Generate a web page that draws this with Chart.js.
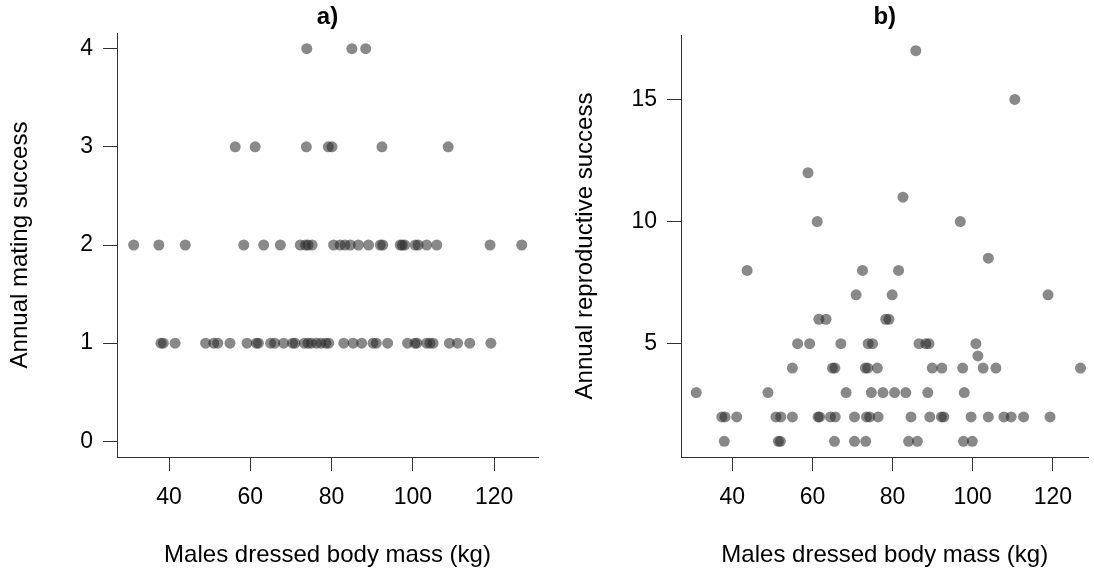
<!DOCTYPE html>
<html>
<head>
<meta charset="utf-8">
<script src="https://cdn.jsdelivr.net/npm/chart.js@4/dist/chart.umd.min.js"></script>
<style>
  html, body { margin: 0; padding: 0; background: #fff; }
  #wrap { position: relative; width: 1094px; height: 572px; overflow: hidden; }
  canvas { position: absolute; top: 0; }
</style>
</head>
<body>
<div id="wrap">
  <canvas id="cA" width="547" height="572" style="left:0px"></canvas>
  <canvas id="cB" width="547" height="572" style="left:547px"></canvas>
</div>
<script>
// ---- Data ----
// Panel a): body mass (kg) per annual mating success level
const massMating1 = [38, 38.6, 41.5, 49, 51, 52, 55, 59.2, 61.5, 62, 65, 66, 68.2, 70.4, 71, 73.3, 74.2, 75, 76.3, 77.4, 78.6, 79.3, 83, 85.3, 87.4, 90.2, 91, 93.8, 98.7, 100.5, 101, 103.4, 104.2, 105, 109, 111, 114, 119.2];
const massMating2 = [31.3, 37.5, 44, 58.4, 63.3, 67.4, 72.3, 73.6, 74.2, 75.2, 80.5, 82.1, 83.3, 84.6, 86.6, 89.1, 92, 92.6, 96.9, 97.4, 98, 100.6, 101.3, 103.4, 105.9, 119, 126.8];
const massMating3 = [56.3, 61.2, 73.8, 79.2, 80.1, 92.4, 108.7];
const massMating4 = [73.9, 85, 88.4];

// Panel b): body mass (kg) and annual reproductive success
const massRS = [85.8, 110.5, 58.9, 82.6, 61.2, 96.9, 103.9,
  43.7, 72.5, 81.5,
  70.9, 79.9, 118.8,
  61.6, 63.4, 78.3, 79.1,
  56.3, 59.3, 67.1, 73.9, 75, 86.6, 88.3, 89.1, 100.8,
  101.3,
  55, 65, 65.6, 73.2, 73.8, 76.2, 89.9, 92.3, 97.5, 102.6, 105.8, 126.9,
  31, 48.9, 68.4, 74.7, 77.6, 80.5, 83.3, 88.8, 97.9,
  37.4, 38.2, 41.1, 50.9, 52.1, 55, 61.4, 61.8, 64.5, 65.7, 70.5, 73.5, 74.3, 76.4, 84.6, 89.3, 92.2, 92.8, 99.6, 103.9, 107.8, 109.6, 112.7, 119.3,
  38, 51.5, 52, 65.5, 70.5, 73.3, 84, 86.2, 97.7, 99.9];
const reproSuccess = [17, 15, 12, 11, 10, 10, 8.5,
  8, 8, 8,
  7, 7, 7,
  6, 6, 6, 6,
  5, 5, 5, 5, 5, 5, 5, 5, 5,
  4.5,
  4, 4, 4, 4, 4, 4, 4, 4, 4, 4, 4, 4,
  3, 3, 3, 3, 3, 3, 3, 3, 3,
  2, 2, 2, 2, 2, 2, 2, 2, 2, 2, 2, 2, 2, 2, 2, 2, 2, 2, 2, 2, 2, 2, 2, 2,
  1, 1, 1, 1, 1, 1, 1, 1, 1, 1];

const xTickValues = [40, 60, 80, 100, 120];
const yTicksMating = [0, 1, 2, 3, 4];
const yTicksRS = [5, 10, 15];
const panelTitles = ['a)', 'b)'];
const xTitle = 'Males dressed body mass (kg)';
const yTitleA = 'Annual mating success';
const yTitleB = 'Annual reproductive success';

// ---- Build ----
const FONT = "'Liberation Sans', Arial, sans-serif";
const POINT_COLOR = 'rgba(40,40,40,0.55)';
const AXIS_COLOR = '#333';

const pointsA = [];
[[massMating1, 1], [massMating2, 2], [massMating3, 3], [massMating4, 4]].forEach(([arr, lvl]) => {
  arr.forEach(m => pointsA.push({ x: m, y: lvl }));
});
const pointsB = massRS.map((m, i) => ({ x: m, y: reproSuccess[i] }));

const panelTitlePlugin = {
  id: 'panelTitle',
  afterDraw(chart, args, opts) {
    const { ctx, chartArea } = chart;
    ctx.save();
    ctx.font = 'bold 24px ' + FONT;
    ctx.fillStyle = '#000';
    ctx.textAlign = 'center';
    ctx.textBaseline = 'middle';
    ctx.fillText(opts.text, (chartArea.left + chartArea.right) / 2, 17);
    ctx.restore();
  }
};

function makeChart(id, data, cfg) {
  return new Chart(document.getElementById(id), {
    type: 'scatter',
    data: { datasets: [{
      data: data,
      backgroundColor: POINT_COLOR,
      borderWidth: 0,
      pointRadius: 5.5,
      pointHoverRadius: 5.5
    }] },
    plugins: [panelTitlePlugin],
    options: {
      responsive: false,
      animation: false,
      devicePixelRatio: 1,
      events: [],
      layout: { padding: { top: cfg.top, right: cfg.right, left: 0, bottom: 0 } },
      plugins: {
        legend: { display: false },
        tooltip: { enabled: false },
        panelTitle: { text: cfg.title }
      },
      scales: {
        x: {
          type: 'linear',
          min: cfg.xmin, max: cfg.xmax,
          afterBuildTicks: s => { s.ticks = xTickValues.map(v => ({ value: v })); },
          afterFit: s => { s.height = 115; },
          ticks: { font: { family: FONT, size: 23 }, color: '#000', padding: 13, maxRotation: 0, autoSkip: false },
          grid: { drawOnChartArea: false, drawTicks: true, tickLength: 14, color: AXIS_COLOR },
          border: { display: true, color: AXIS_COLOR, width: 1 },
          title: { display: true, text: xTitle, font: { family: FONT, size: 24 }, color: '#000', padding: { top: 0, bottom: 2 } }
        },
        y: {
          type: 'linear',
          min: cfg.ymin, max: cfg.ymax,
          afterBuildTicks: s => { s.ticks = cfg.yTicks.map(v => ({ value: v })); },
          afterFit: s => { s.width = cfg.yWidth; },
          ticks: { font: { family: FONT, size: 23 }, color: '#000', padding: 10, autoSkip: false },
          grid: { drawOnChartArea: false, drawTicks: true, tickLength: 14, color: AXIS_COLOR },
          border: { display: true, color: AXIS_COLOR, width: 1 },
          title: { display: true, text: cfg.yTitle, font: { family: FONT, size: 24 }, color: '#000', padding: { top: cfg.yTitlePad, bottom: 0 } }
        }
      }
    }
  });
}

makeChart('cA', pointsA, {
  title: panelTitles[0], top: 33, right: 9,
  xmin: 27.2, xmax: 130.8, ymin: -0.16, ymax: 4.16,
  yTicks: yTicksMating, yWidth: 117, yTitle: yTitleA, yTitlePad: 6
});
makeChart('cB', pointsB, {
  title: panelTitles[1], top: 35, right: 0,
  xmin: 27.2, xmax: 128.9, ymin: 0.36, ymax: 17.64,
  yTicks: yTicksRS, yWidth: 134, yTitle: yTitleB, yTitlePad: 24
});
</script>
</body>
</html>
